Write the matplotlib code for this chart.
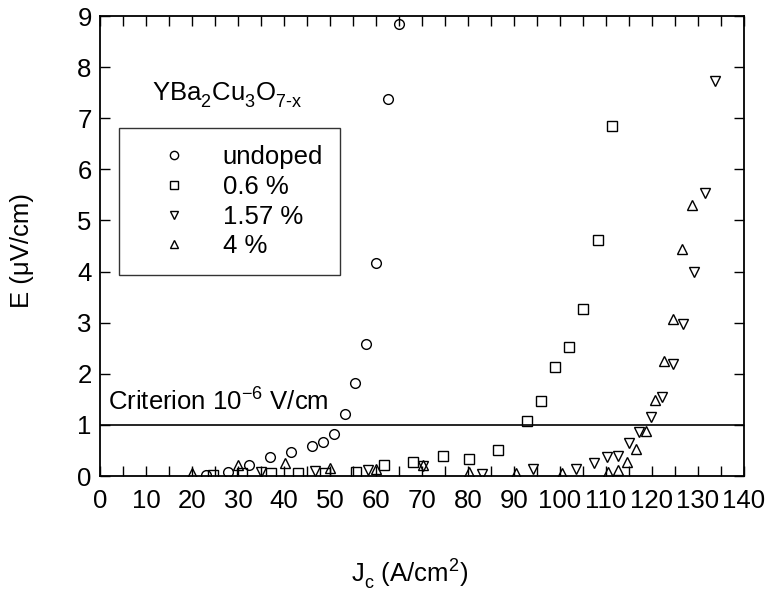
import matplotlib
matplotlib.use("Agg")
import matplotlib.pyplot as plt
from matplotlib.ticker import MultipleLocator

plt.rcParams['font.family'] = ['Liberation Sans', 'DejaVu Sans']
plt.rcParams['mathtext.fontset'] = 'custom'
plt.rcParams['mathtext.rm'] = 'Liberation Sans'
plt.rcParams['mathtext.it'] = 'Liberation Sans'
plt.rcParams['mathtext.bf'] = 'Liberation Sans:bold'
try:
    from matplotlib import _mathtext
    _mathtext.FontConstantsBase.sub1 = 0.5
    _mathtext.FontConstantsBase.sub2 = 0.6
except Exception:
    pass

# undoped (circles)
undoped_x = [23.0, 27.9, 32.3, 36.9, 41.5, 46.1, 48.4, 50.9, 53.3, 55.4, 57.8, 60.0, 62.5, 65.0]
undoped_y = [0.01, 0.07, 0.22, 0.38, 0.46, 0.59, 0.67, 0.82, 1.21, 1.81, 2.58, 4.17, 7.38, 8.85]

# 0.6 % (squares)
p06_x = [24.5, 30.8, 37.1, 43.1, 48.9, 55.7, 61.7, 68.0, 74.5, 80.3, 86.6, 92.8, 95.8, 99.0,
         102.0, 105.1, 108.3, 111.3]
p06_y = [0.02, 0.05, 0.05, 0.05, 0.05, 0.08, 0.22, 0.28, 0.39, 0.33, 0.51, 1.08, 1.47, 2.13,
         2.52, 3.27, 4.61, 6.85]

# 1.57 % (down triangles)
p157_x = [35.0, 46.8, 58.3, 70.3, 83.0, 94.1, 103.5, 107.3, 110.3, 112.6, 115.1, 117.2, 119.7,
          122.1, 124.5, 126.8, 129.2, 131.5, 133.8]
p157_y = [0.08, 0.10, 0.12, 0.20, 0.04, 0.13, 0.14, 0.26, 0.37, 0.40, 0.65, 0.87, 1.15,
          1.54, 2.20, 2.97, 4.00, 5.54, 7.73]

# 4 % (up triangles)
p4_x = [20.1, 30.1, 40.2, 50.1, 60.1, 70.3, 80.3, 90.4, 100.5, 110.5, 112.5, 114.5, 116.5,
        118.7, 120.6, 122.5, 124.5, 126.6, 128.6]
p4_y = [0.06, 0.21, 0.25, 0.15, 0.13, 0.21, 0.08, 0.05, 0.05, 0.08, 0.11, 0.27, 0.52,
        0.89, 1.49, 2.25, 3.07, 4.44, 5.30]

labels = ['undoped', '0.6 %', '1.57 %', '4 %']
criterion = 1.0

fig = plt.figure(figsize=(7.67, 5.93), dpi=100)
ax = fig.add_axes([100/767, (593-476)/593, 644/767, 460/593])

fs = 18.5
common = dict(linestyle='none', markerfacecolor='none', markeredgecolor='black',
              markeredgewidth=1.0)
h1, = ax.plot(undoped_x, undoped_y, marker='o', markersize=7, label=labels[0], **common)
h2, = ax.plot(p06_x, p06_y, marker='s', markersize=7, label=labels[1], **common)
h3, = ax.plot(p157_x, p157_y, marker='v', markersize=7.5, label=labels[2], **common)
h4, = ax.plot(p4_x, p4_y, marker='^', markersize=7.5, label=labels[3], **common)

ax.axhline(criterion, color='black', linewidth=1.2)
ax.text(1.7, 1.45, 'Criterion 10$^{-6}$ V/cm', fontsize=fs, ha='left', va='center')
ax.text(11.3, 7.47, 'YBa$_2$Cu$_3$O$_{7\u2010x}$', fontsize=fs, ha='left', va='center')

ax.set_xlim(0, 140)
ax.set_ylim(0, 9)
ax.xaxis.set_major_locator(MultipleLocator(10))
ax.xaxis.set_minor_locator(MultipleLocator(5))
ax.yaxis.set_major_locator(MultipleLocator(1))
ax.tick_params(which='both', direction='in', top=True, right=True, length=7, width=1.0,
               labelsize=fs)
ax.tick_params(axis='x', pad=9)
ax.tick_params(axis='y', pad=6)
for s in ax.spines.values():
    s.set_linewidth(1.3)

ax.set_xlabel('J$_c$ (A/cm$^2$)', fontsize=fs)
ax.set_ylabel('E (\u03bcV/cm)', fontsize=fs)
ax.xaxis.label.set_va('center')
ax.yaxis.label.set_va('center')
ax.xaxis.set_label_coords(0.48, -0.215)
ax.yaxis.set_label_coords(-0.121, 0.491)

leg = ax.legend(handles=[h1, h2, h3, h4], loc='upper left',
                bbox_to_anchor=(19/644, (476-128)/460), borderaxespad=0,
                fontsize=fs, frameon=True, fancybox=False, edgecolor='black',
                handlelength=3.0, handletextpad=0.38, borderpad=0.65,
                labelspacing=0.23, markerscale=0.85)
leg.get_frame().set_linewidth(1.0)

fig.savefig('out.png', dpi=100)
